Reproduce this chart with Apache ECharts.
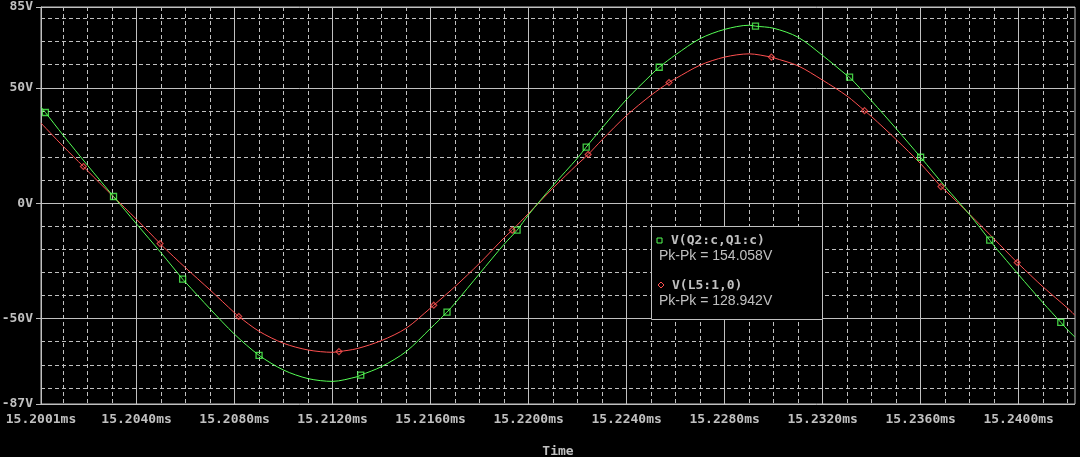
<!DOCTYPE html>
<html>
<head>
<meta charset="utf-8">
<script src="https://cdn.jsdelivr.net/npm/echarts@6/dist/echarts.min.js"></script>
<style>
  html, body { margin: 0; padding: 0; background: #000; }
  #chart { width: 1080px; height: 457px; }
</style>
</head>
<body>
<div id="chart"></div>
<script>
// ---- Data (time in ms, voltage in V) ----
const greenName = 'V(Q2:c,Q1:c)';
const greenPkPk = 'Pk-Pk = 154.058V';
const redName = 'V(L5:1,0)';
const redPkPk = 'Pk-Pk = 128.942V';

const greenT = [15.2001, 15.20028, 15.2010, 15.2020, 15.20306, 15.2040, 15.2050, 15.20588, 15.2060, 15.2070,
  15.2080, 15.2090, 15.2100, 15.2110, 15.2120, 15.2130, 15.21315, 15.2140, 15.2150, 15.2160,
  15.21667, 15.2170, 15.2180, 15.2190, 15.21953, 15.2200, 15.2210, 15.2220, 15.22235, 15.2230,
  15.2240, 15.2250, 15.22533, 15.2260, 15.2270, 15.2280, 15.2290, 15.22926, 15.2300, 15.2310,
  15.2320, 15.2330, 15.23310, 15.2340, 15.2350, 15.2360, 15.2370, 15.2380, 15.23882, 15.2390,
  15.2400, 15.2410, 15.24172, 15.2420, 15.2423];
const greenV = [41.6, 39.3, 29.5, 16.4, 2.9, -9.0, -21.5, -32.9, -34.3, -45.8,
  -56.8, -65.9, -72.3, -76.0, -77.2, -75.2, -74.5, -70.8, -64.3, -54.2,
  -47.2, -43.3, -30.5, -17.8, -11.7, -5.0, 7.7, 19.6, 24.3, 32.6,
  45.0, 55.6, 58.9, 64.3, 71.3, 75.3, 77.1, 76.7, 75.8, 71.9,
  64.0, 55.3, 54.6, 44.3, 32.3, 19.9, 7.2, -5.0, -16.0, -18.5,
  -31.0, -43.2, -51.6, -54.9, -58.0];

const redT = [15.2001, 15.2010, 15.20183, 15.2020, 15.2030, 15.2040, 15.20496, 15.2050, 15.2060, 15.2070,
  15.2080, 15.20817, 15.2090, 15.2100, 15.2110, 15.2120, 15.21226, 15.2130, 15.2140, 15.2150,
  15.2160, 15.21613, 15.2170, 15.2180, 15.2190, 15.21933, 15.2200, 15.2210, 15.2220, 15.22243,
  15.2230, 15.2240, 15.2250, 15.22573, 15.2260, 15.2270, 15.2280, 15.2290, 15.22991, 15.2300,
  15.2310, 15.2320, 15.2330, 15.23371, 15.2340, 15.2350, 15.2360, 15.23683, 15.2370, 15.2380,
  15.2390, 15.23994, 15.2400, 15.2410, 15.2420, 15.2423];
const redV = [34.7, 24.7, 15.9, 14.0, 3.4, -7.0, -17.5, -18.0, -28.0, -37.6,
  -47.5, -49.1, -55.5, -60.7, -63.6, -64.6, -64.3, -63.0, -59.5, -54.2,
  -45.4, -44.2, -36.1, -26.0, -15.0, -11.7, -4.4, 6.6, 16.9, 21.1,
  27.5, 38.0, 46.8, 52.3, 54.0, 59.8, 63.3, 64.7, 63.3, 63.0,
  59.5, 53.3, 46.4, 40.1, 37.5, 27.6, 17.1, 7.2, 5.6, -4.8,
  -15.5, -25.7, -26.3, -36.3, -45.5, -48.6];

// marker positions (points of the traces that carry a symbol)
const greenMarkT = [15.20028, 15.20306, 15.20588, 15.2090, 15.21315, 15.21667, 15.21953, 15.22235, 15.22533, 15.22926, 15.23310, 15.2360, 15.23882, 15.24172];
const greenMarkV = [39.3, 2.9, -32.9, -65.9, -74.5, -47.2, -11.7, 24.3, 58.9, 76.7, 54.6, 19.9, -16.0, -51.6];
const redMarkT = [15.20183, 15.20496, 15.20817, 15.21226, 15.21613, 15.21933, 15.22243, 15.22573, 15.22991, 15.23371, 15.23683, 15.23994];
const redMarkV = [15.9, -17.5, -49.1, -64.3, -44.2, -11.7, 21.1, 52.3, 63.3, 40.1, 7.2, -25.7];

// axis ticks
const xMin = 15.2001, xMax = 15.2423;
const xLabelTicks = [15.2001, 15.204, 15.208, 15.212, 15.216, 15.22, 15.224, 15.228, 15.232, 15.236, 15.24];
const xMinorTicks = [15.201, 15.202, 15.203, 15.205, 15.206, 15.207, 15.209, 15.21, 15.211, 15.213, 15.214, 15.215,
  15.217, 15.218, 15.219, 15.221, 15.222, 15.223, 15.225, 15.226, 15.227, 15.229, 15.23, 15.231,
  15.233, 15.234, 15.235, 15.237, 15.238, 15.239, 15.241, 15.242];
const yMin = -87, yMax = 85;
const yLabelTicks = [-87, -50, 0, 50, 85];
const yMinorTicks = [-80, -70, -60, -40, -30, -20, -10, 10, 20, 30, 40, 60, 70, 80];

// ---- Styling ----
const GREY = '#c0c0c0';
const GREEN = '#55ff55';
const RED = '#ff5050';
const MONO = 'DejaVu Sans Mono';

function zip(a, b) { return a.map((v, i) => [v, b[i]]); }

const chart = echarts.init(document.getElementById('chart'));
chart.setOption({
  backgroundColor: '#000',
  animation: false,
  grid: { left: 41, right: 5, top: 7, bottom: 53, show: true, borderColor: GREY, borderWidth: 1,
    containLabel: false, outerBoundsMode: 'none' },
  xAxis: [
    {
      type: 'value', min: xMin, max: xMax, position: 'bottom',
      name: 'Time', nameLocation: 'middle', nameGap: 41,
      nameTextStyle: { color: GREY, fontFamily: MONO, fontSize: 13, fontWeight: 'bold' },
      axisLine: { show: true, lineStyle: { color: GREY } },
      axisTick: { show: true, length: 4, inside: false, customValues: xLabelTicks, lineStyle: { color: GREY } },
      axisLabel: { customValues: xLabelTicks, margin: 9, color: GREY, fontFamily: MONO, fontSize: 13, fontWeight: 'bold',
        formatter: v => v.toFixed(4) + 'ms' },
      splitLine: { show: true, lineStyle: { color: GREY, width: 1, type: 'solid' } }
    },
    {
      type: 'value', min: xMin, max: xMax, position: 'top',
      axisLine: { show: false }, axisLabel: { show: false },
      axisTick: { show: false, customValues: xMinorTicks },
      splitLine: { show: true, lineStyle: { color: GREY, width: 1, type: [4, 3] } }
    }
  ],
  yAxis: [
    {
      type: 'value', min: yMin, max: yMax, position: 'left',
      axisLine: { show: true, lineStyle: { color: GREY } },
      axisTick: { show: true, length: 5, inside: false, customValues: yLabelTicks, lineStyle: { color: GREY } },
      axisLabel: { customValues: yLabelTicks, margin: 8, color: GREY, fontFamily: MONO, fontSize: 13, fontWeight: 'bold',
        formatter: v => v + 'V' },
      splitLine: { show: true, lineStyle: { color: GREY, width: 1, type: 'solid' } }
    },
    {
      type: 'value', min: yMin, max: yMax, position: 'right',
      axisLine: { show: false }, axisLabel: { show: false },
      axisTick: { show: false, customValues: yMinorTicks },
      splitLine: { show: true, lineStyle: { color: GREY, width: 1, type: [4, 3] } }
    }
  ],
  series: [
    { name: greenName, type: 'line', xAxisIndex: 0, yAxisIndex: 0, data: zip(greenT, greenV),
      smooth: 0.3, showSymbol: false, lineStyle: { color: GREEN, width: 1 }, z: 5 },
    { name: redName, type: 'line', xAxisIndex: 0, yAxisIndex: 0, data: zip(redT, redV),
      smooth: 0.3, showSymbol: false, lineStyle: { color: RED, width: 1 }, z: 4 },
    { type: 'scatter', xAxisIndex: 0, yAxisIndex: 0, data: zip(greenMarkT, greenMarkV),
      symbol: 'rect', symbolSize: 6, itemStyle: { color: 'rgba(0,0,0,0)', borderColor: GREEN, borderWidth: 1.3 }, z: 6 },
    { type: 'scatter', xAxisIndex: 0, yAxisIndex: 0, data: zip(redMarkT, redMarkV),
      symbol: 'diamond', symbolSize: 6, itemStyle: { color: 'rgba(0,0,0,0)', borderColor: RED, borderWidth: 1.2 }, z: 6 }
  ],
  graphic: [
    { type: 'rect', z: 100, zlevel: 1, shape: { x: 651.5, y: 226.5, width: 171, height: 93 },
      style: { fill: '#000', stroke: GREY, lineWidth: 1 } },
    { type: 'rect', z: 101, zlevel: 1, shape: { x: 657, y: 238, width: 5, height: 5 },
      style: { fill: '#000', stroke: GREEN, lineWidth: 1 } },
    { type: 'text', z: 101, zlevel: 1, x: 671, y: 240.5,
      style: { text: greenName, fill: GREY, font: 'bold 13px "DejaVu Sans Mono"', verticalAlign: 'middle' } },
    { type: 'text', z: 101, zlevel: 1, x: 659, y: 256.5,
      style: { text: greenPkPk, fill: GREY, font: '14px "Liberation Sans"', verticalAlign: 'middle' } },
    { type: 'polygon', z: 101, zlevel: 1, shape: { points: [[661, 282], [664, 285], [661, 288], [658, 285]] },
      style: { fill: '#000', stroke: RED, lineWidth: 1 } },
    { type: 'text', z: 101, zlevel: 1, x: 672, y: 285.5,
      style: { text: redName, fill: GREY, font: 'bold 13px "DejaVu Sans Mono"', verticalAlign: 'middle' } },
    { type: 'text', z: 101, zlevel: 1, x: 659, y: 301.5,
      style: { text: redPkPk, fill: GREY, font: '14px "Liberation Sans"', verticalAlign: 'middle' } }
  ]
});
</script>
</body>
</html>
